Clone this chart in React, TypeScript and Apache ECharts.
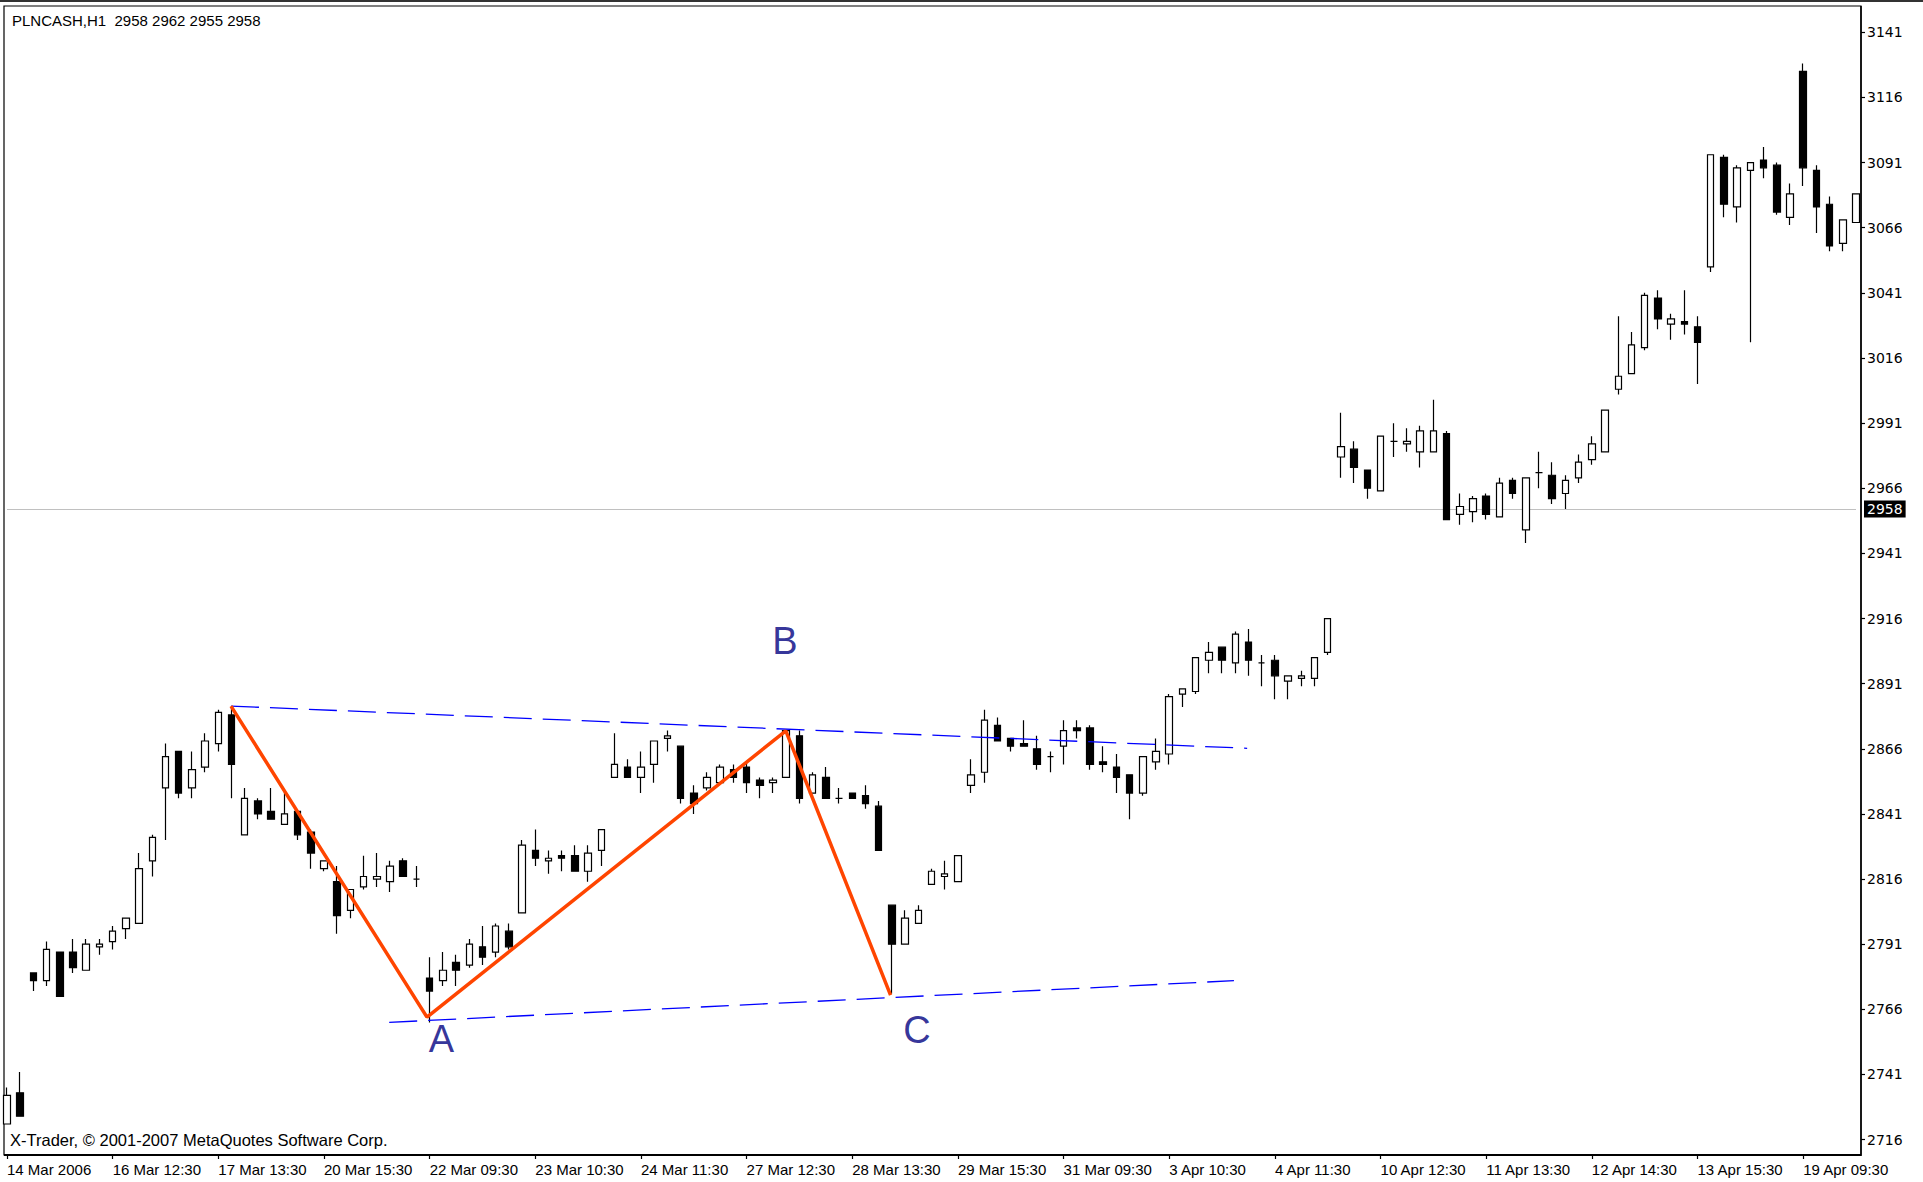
import React, { useEffect, useRef } from 'react';
import * as echarts from 'echarts';

// ---- Axis labels ----
const tickLabels = [
  '14 Mar 2006', '16 Mar 12:30', '17 Mar 13:30', '20 Mar 15:30', '22 Mar 09:30', '23 Mar 10:30',
  '24 Mar 11:30', '27 Mar 12:30', '28 Mar 13:30', '29 Mar 15:30', '31 Mar 09:30', '3 Apr 10:30',
  '4 Apr 11:30', '10 Apr 12:30', '11 Apr 13:30', '12 Apr 14:30', '13 Apr 15:30', '19 Apr 09:30',
];
const barsPerLabel = 8;
const priceTicks = [2716, 2741, 2766, 2791, 2816, 2841, 2866, 2891, 2916, 2941, 2966, 2991, 3016, 3041, 3066, 3091, 3116, 3141];
const priceMin = 2710.1;
const priceMax = 3151.1;

// ---- OHLC (H1 bars) ----
const opens = [
  2722, 2734, 2780, 2777, 2788, 2788, 2781, 2790, 2792, 2797,
  2799, 2823, 2851, 2865, 2851, 2859, 2868, 2879, 2833, 2846,
  2842, 2837, 2842, 2834, 2820, 2815, 2804, 2813, 2816, 2815,
  2823, 2816, 2778, 2777, 2784, 2783, 2790, 2788, 2796, 2803,
  2827, 2823, 2825, 2825, 2819, 2827, 2855, 2859, 2855, 2860,
  2870, 2867, 2849, 2851, 2853, 2858, 2859, 2854, 2853, 2855,
  2871, 2849, 2855, 2847, 2849, 2848, 2844, 2806, 2791, 2799,
  2814, 2817, 2815, 2852, 2857, 2875, 2870, 2868, 2866, 2863,
  2867, 2874, 2874, 2861, 2859, 2856, 2849, 2861, 2864, 2887,
  2888, 2900, 2905, 2899, 2907, 2899, 2900, 2892, 2893, 2893,
  2903, 2978, 2981, 2973, 2965, 2984, 2983, 2980, 2980, 2987,
  2956, 2957, 2963, 2955, 2969, 2950, 2972, 2971, 2964, 2970,
  2977, 2980, 3004, 3010, 3020, 3039, 3029, 3030, 3028, 3051,
  3093, 3074, 3088, 3092, 3090, 3070, 3126, 3088, 3075, 3060,
  3068,
];
const closes = [
  2733, 2725, 2777, 2789, 2771, 2782, 2791, 2791, 2796, 2801,
  2820, 2832, 2863, 2849, 2858, 2869, 2880, 2860, 2847, 2841,
  2839, 2841, 2833, 2826, 2823, 2802, 2812, 2817, 2817, 2821,
  2817, 2816, 2773, 2781, 2781, 2791, 2786, 2798, 2790, 2829,
  2824, 2824, 2824, 2819, 2826, 2835, 2860, 2855, 2859, 2869,
  2871, 2847, 2845, 2855, 2859, 2855, 2853, 2852, 2854, 2873,
  2847, 2856, 2847, 2847, 2847, 2845, 2827, 2791, 2801, 2804,
  2819, 2818, 2825, 2856, 2877, 2869, 2867, 2867, 2860, 2863,
  2873, 2873, 2860, 2860, 2855, 2849, 2863, 2865, 2886, 2889,
  2901, 2903, 2900, 2910, 2900, 2899, 2894, 2894, 2894, 2901,
  2916, 2982, 2974, 2966, 2986, 2984, 2984, 2988, 2988, 2954,
  2959, 2962, 2956, 2968, 2964, 2970, 2972, 2962, 2969, 2976,
  2983, 2996, 3009, 3021, 3040, 3031, 3031, 3029, 3022, 3094,
  3075, 3089, 3091, 3089, 3072, 3079, 3089, 3074, 3059, 3069,
  3079,
];
const lows = [
  2722, 2725, 2773, 2775, 2771, 2780, 2781, 2787, 2789, 2793,
  2799, 2817, 2831, 2847, 2847, 2857, 2865, 2847, 2833, 2839,
  2839, 2837, 2831, 2820, 2819, 2795, 2801, 2812, 2813, 2811,
  2817, 2813, 2761, 2775, 2775, 2782, 2783, 2786, 2789, 2803,
  2821, 2818, 2819, 2819, 2815, 2821, 2855, 2855, 2849, 2853,
  2865, 2845, 2841, 2850, 2853, 2853, 2849, 2847, 2849, 2855,
  2845, 2849, 2847, 2845, 2847, 2843, 2827, 2772, 2791, 2799,
  2814, 2812, 2815, 2849, 2853, 2869, 2865, 2867, 2858, 2857,
  2860, 2870, 2858, 2857, 2849, 2839, 2848, 2858, 2860, 2882,
  2887, 2895, 2895, 2895, 2894, 2890, 2885, 2885, 2890, 2890,
  2902, 2970, 2968, 2962, 2965, 2978, 2980, 2974, 2980, 2954,
  2952, 2953, 2954, 2955, 2962, 2945, 2966, 2960, 2958, 2968,
  2975, 2980, 3002, 3010, 3019, 3027, 3023, 3025, 3006, 3049,
  3070, 3068, 3022, 3085, 3071, 3067, 3082, 3064, 3057, 3057,
  3068,
];
const highs = [
  2736, 2742, 2780, 2792, 2788, 2793, 2793, 2793, 2798, 2801,
  2826, 2833, 2868, 2865, 2865, 2872, 2881, 2882, 2851, 2847,
  2851, 2850, 2842, 2835, 2823, 2821, 2812, 2825, 2826, 2823,
  2824, 2821, 2786, 2788, 2787, 2793, 2798, 2799, 2799, 2831,
  2835, 2827, 2827, 2829, 2829, 2835, 2872, 2862, 2865, 2869,
  2873, 2867, 2852, 2857, 2860, 2860, 2861, 2855, 2855, 2873,
  2873, 2857, 2859, 2851, 2849, 2852, 2846, 2806, 2804, 2806,
  2820, 2823, 2825, 2862, 2881, 2878, 2870, 2877, 2871, 2865,
  2877, 2877, 2875, 2867, 2864, 2856, 2863, 2870, 2887, 2889,
  2901, 2907, 2905, 2911, 2912, 2902, 2902, 2894, 2896, 2901,
  2916, 2995, 2984, 2973, 2986, 2991, 2989, 2990, 3000, 2988,
  2964, 2963, 2964, 2970, 2970, 2970, 2980, 2976, 2971, 2979,
  2986, 2996, 3032, 3026, 3041, 3042, 3033, 3042, 3032, 3094,
  3094, 3090, 3091, 3097, 3091, 3083, 3129, 3090, 3078, 3069,
  3079,
];

// ---- Header quote & bid line ----
const symbolName = 'PLNCASH,H1';
const lastQuote = [2958, 2962, 2955, 2958];
const bidPrice = 2958;

// ---- Drawn objects (bar index, price) ----
const upperLineX = [16.96, 93.9];
const upperLineY = [2882.4, 2866.2];
const lowerLineX = [28.94, 92.9];
const lowerLineY = [2761.0, 2777.0];
const zigzagX = [16.96, 31.8, 58.97, 66.9];
const zigzagY = [2882.4, 2763.0, 2872.9, 2771.5];
const waveLabels = ['A', 'B', 'C'];
const waveLabelX = [32.9, 58.9, 68.9];
const waveLabelY = [2754.6, 2907.2, 2758.0];

const categories = opens.map((_, i) =>
  i % barsPerLabel === 0 && tickLabels[i / barsPerLabel] ? tickLabels[i / barsPerLabel] : `bar${i}`
);
const candleData = opens.map((o, i) => [o, closes[i], lows[i], highs[i]]);
const lastIndex = opens.length - 1;

export default function App() {
  const ref = useRef<HTMLDivElement>(null);

  useEffect(() => {
    if (!ref.current) return;
    const chart = echarts.init(ref.current, null, { renderer: 'svg' });
    const option: any = {
      animation: false,
      backgroundColor: '#ffffff',
      grid: { left: 7, right: 67, top: 6, bottom: 27, containLabel: false, outerBoundsMode: 'none' },
      xAxis: [
        {
          type: 'category',
          data: categories,
          boundaryGap: false,
          axisLine: { show: false, onZero: false },
          axisTick: { show: true, interval: barsPerLabel - 1, length: 4, lineStyle: { color: '#000', width: 1.2 } },
          axisLabel: {
            show: true,
            interval: barsPerLabel - 1,
            align: 'left',
            margin: 7,
            color: '#000',
            fontFamily: 'Liberation Sans',
            fontSize: 15,
          },
          splitLine: { show: false },
        },
        { type: 'value', min: 0, max: lastIndex, show: false, axisLine: { onZero: false } },
      ],
      yAxis: [
        {
          type: 'value',
          position: 'right',
          offset: 5,
          min: priceMin,
          max: priceMax,
          scale: true,
          axisLine: { show: false, onZero: false },
          axisTick: { show: true, length: 4, customValues: priceTicks, lineStyle: { color: '#000', width: 1.2 } },
          axisLabel: {
            show: true,
            customValues: priceTicks,
            formatter: (v: number) => String(Math.round(v)),
            margin: 6,
            color: '#000',
            fontFamily: 'DejaVu Sans',
            fontSize: 14,
            align: 'left',
          },
          splitLine: { show: false },
        },
      ],
      series: [
        {
          type: 'candlestick',
          xAxisIndex: 0,
          yAxisIndex: 0,
          data: candleData,
          barWidth: 7,
          clip: false,
          itemStyle: {
            color: '#ffffff',
            color0: '#000000',
            borderColor: '#000000',
            borderColor0: '#000000',
            borderWidth: 1.2,
          },
          markLine: {
            silent: true,
            symbol: ['none', 'none'],
            data: [{ yAxis: bidPrice }],
            lineStyle: { color: '#C0C0C0', width: 1.2, type: 'solid' },
            label: {
              show: true,
              position: 'end',
              distance: 8,
              formatter: String(bidPrice),
              color: '#ffffff',
              backgroundColor: '#000000',
              fontFamily: 'DejaVu Sans',
              fontSize: 14,
              padding: [2, 3, 1, 3],
            },
            z: 1,
          },
        },
        {
          type: 'line',
          xAxisIndex: 1,
          yAxisIndex: 0,
          data: upperLineX.map((x, i) => [x, upperLineY[i]]),
          symbol: 'none',
          clip: false,
          lineStyle: { color: '#0000FF', width: 1.3, type: [28, 11] },
          z: 3,
        },
        {
          type: 'line',
          xAxisIndex: 1,
          yAxisIndex: 0,
          data: lowerLineX.map((x, i) => [x, lowerLineY[i]]),
          symbol: 'none',
          clip: false,
          lineStyle: { color: '#0000FF', width: 1.3, type: [28, 11] },
          z: 3,
        },
        {
          type: 'line',
          xAxisIndex: 1,
          yAxisIndex: 0,
          data: zigzagX.map((x, i) => [x, zigzagY[i]]),
          symbol: 'none',
          clip: false,
          lineStyle: { color: '#FF4500', width: 3.5 },
          z: 4,
        },
        {
          type: 'scatter',
          xAxisIndex: 1,
          yAxisIndex: 0,
          symbolSize: 1,
          itemStyle: { color: 'rgba(0,0,0,0)' },
          data: waveLabels.map((n, i) => ({ name: n, value: [waveLabelX[i], waveLabelY[i]] })),
          label: {
            show: true,
            position: 'inside',
            formatter: '{b}',
            color: '#000080',
            fontFamily: 'Liberation Sans',
            fontSize: 38,
          },
          z: 5,
        },
      ],
      graphic: [
        { type: 'rect', silent: true, shape: { x: 0, y: 0, width: 1923, height: 2 }, style: { fill: '#333333' } },
        {
          type: 'rect',
          silent: true,
          shape: { x: 4, y: 6, width: 1857, height: 1149 },
          style: { fill: 'none', stroke: '#000000', lineWidth: 1.2 },
        },
        {
          type: 'line',
          silent: true,
          shape: { x1: 4, y1: 1155, x2: 1861, y2: 1155 },
          style: { stroke: '#000000', lineWidth: 2 },
        },
        {
          type: 'line',
          silent: true,
          shape: { x1: 1861, y1: 6, x2: 1861, y2: 1156 },
          style: { stroke: '#000000', lineWidth: 1.5 },
        },
        {
          type: 'text',
          silent: true,
          x: 12,
          y: 20,
          style: {
            text: `${symbolName}  ${lastQuote.join(' ')}`,
            fill: '#000',
            font: '15px "Liberation Sans"',
            textAlign: 'left',
            textVerticalAlign: 'middle',
          },
        },
        {
          type: 'text',
          silent: true,
          x: 10,
          y: 1140,
          style: {
            text: 'X-Trader, © 2001-2007 MetaQuotes Software Corp.',
            fill: '#000',
            font: '16.5px "Liberation Sans"',
            textAlign: 'left',
            textVerticalAlign: 'middle',
          },
        },
      ],
    };
    chart.setOption(option);
    return () => chart.dispose();
  }, []);

  return (
    <div
      ref={ref}
      style={{ position: 'fixed', left: 0, top: 0, width: 1923, height: 1182, background: '#ffffff' }}
    />
  );
}
